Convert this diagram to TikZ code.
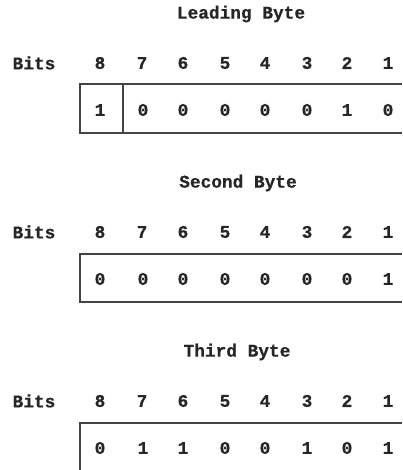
\documentclass[tikz,border=0pt]{standalone}
\usepackage{fontspec}
\newfontfamily\bitfont{Liberation Mono}[UprightFont={* Bold}, FakeBold=0.6]
\definecolor{txt}{HTML}{262626}
\definecolor{ln}{HTML}{444444}
\begin{document}
\begin{tikzpicture}[x=1pt,y=-1pt,
  lbl/.style={font=\bitfont\fontsize{17.8}{20}\selectfont, text=txt, inner sep=0pt, anchor=center},
  boxline/.style={draw=ln, line width=1.3pt}]
\useasboundingbox (0,0) rectangle (402,470);
\def\xs{100,142,183,225,265,307,347,388}
% titles
\node[lbl] (t1) at (241,14) {Leading Byte};
\node[lbl] (t2) at (238,183) {Second Byte};
\node[lbl] (t3) at (237,352) {Third Byte};
% bits rows
\foreach \r/\y in {1/63,2/232,3/401}{
  \node[lbl] (bits\r) at (34,\y) {Bits};
  \foreach \x [count=\i] in \xs {
    \pgfmathtruncatemacro{\n}{9-\i}
    \node[lbl] (h\r-\i) at (\x,\y) {\n};
  }
}
% values
\foreach \r/\y/\vals in {1/110/{1,0,0,0,0,0,1,0},2/279/{0,0,0,0,0,0,0,1},3/448/{0,1,1,0,0,1,0,1}}{
  \foreach \v [count=\i] in \vals {
    \pgfmathsetmacro{\xx}{{100,143,183,225,265,307,347,388}[\i-1]}
    \node[lbl] (v\r-\i) at (\xx,\y) {\v};
  }
}
% boxes
\coordinate (a1) at (402,84);
\coordinate (a2) at (80,84);
\coordinate (a3) at (80,133);
\coordinate (a4) at (402,133);
\coordinate (d1) at (123,84);
\coordinate (d2) at (123,133);
\draw[boxline] (a1) -- (a2) -- (a3) -- (a4);
\draw[boxline] (d1) -- (d2);
\coordinate (b1) at (402,254);
\coordinate (b2) at (80,254);
\coordinate (b3) at (80,302);
\coordinate (b4) at (402,302);
\draw[boxline] (b1) -- (b2) -- (b3) -- (b4);
\coordinate (c1) at (402,423);
\coordinate (c2) at (80,423);
\coordinate (c3) at (80,470);
\draw[boxline] (c1) -- (c2) -- (c3);
\end{tikzpicture}
\end{document}
